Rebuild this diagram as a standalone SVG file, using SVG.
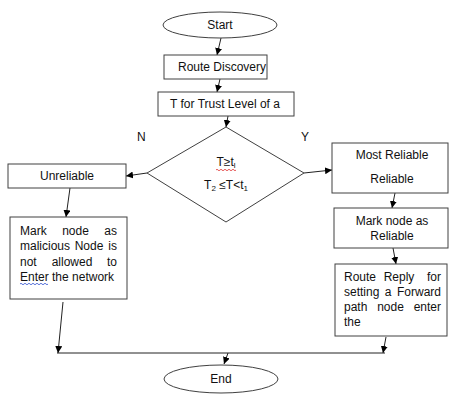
<svg xmlns="http://www.w3.org/2000/svg" width="449" height="394" viewBox="0 0 449 394">
<defs>
<marker id="ah" viewBox="0 0 10 10" refX="10" refY="5" markerWidth="7" markerHeight="7" orient="auto" markerUnits="userSpaceOnUse">
<path d="M0,0 L10,5 L0,10 z" fill="#000"/>
</marker>
<style>
.sh{fill:#fff;stroke:#404040;stroke-width:1}
.t{font-family:"Liberation Sans",Arial,sans-serif;font-size:12px;fill:#111}
.m{text-anchor:middle}
.e{text-anchor:end}
.c{fill:none;stroke:#222;stroke-width:1}
.cm{fill:none;stroke:#222;stroke-width:1;marker-end:url(#ah)}
</style>
</defs>
<rect width="449" height="394" fill="#fff"/>
<g id="connectors">
<line class="cm" x1="221" y1="38" x2="217" y2="55"/>
<line class="cm" x1="220" y1="79" x2="217" y2="92"/>
<line class="cm" x1="228" y1="116" x2="226" y2="127"/>
<line class="cm" x1="147" y1="173" x2="126" y2="176"/>
<line class="cm" x1="304" y1="173" x2="332" y2="170"/>
<line class="cm" x1="70" y1="188" x2="66" y2="217"/>
<line class="cm" x1="395" y1="193" x2="392" y2="208"/>
<line class="cm" x1="393" y1="248" x2="396" y2="264"/>
<line class="cm" x1="63" y1="302" x2="58" y2="353"/>
<line class="cm" x1="386" y1="337" x2="383" y2="353"/>
<line class="c" x1="57" y1="353" x2="385" y2="353"/>
<line class="cm" x1="228" y1="353" x2="224" y2="364"/>
</g>
<g id="start">
<ellipse class="sh" cx="220" cy="25" rx="57" ry="13"/>
<text class="t m" x="220" y="29">Start</text>
</g>
<g id="route-discovery">
<rect class="sh" x="164" y="55" width="103" height="24"/>
<text class="t m" x="222" y="71">Route Discovery</text>
</g>
<g id="trust-level">
<rect class="sh" x="158" y="92" width="136" height="24"/>
<text class="t m" x="225" y="108">T for Trust Level of a</text>
</g>
<g id="decision">
<polygon class="sh" points="226,127 304,173 226,222 147,173"/>
<text class="t m" x="226" y="166">T≥t<tspan font-size="8" dy="2">l</tspan></text>
<path d="M216,170 q1,-1.5 2,0 t2,0 t2,0 t2,0 t2,0 t2,0 t2,0 t2,0 t2,0 t2,0" fill="none" stroke="#e03030" stroke-width="0.8"/>
<text class="t m" x="226" y="189">T<tspan font-size="8" dy="2">2</tspan><tspan dy="-2"> ≤T&lt;t</tspan><tspan font-size="8" dy="2">1</tspan></text>
<text class="t" x="137" y="141">N</text>
<text class="t" x="301" y="141">Y</text>
</g>
<g id="unreliable">
<rect class="sh" x="8" y="164" width="118" height="24"/>
<text class="t m" x="67" y="180">Unreliable</text>
</g>
<g id="mark-malicious">
<rect class="sh" x="10" y="217" width="117" height="82"/>
<text class="t" x="20" y="235">Mark</text>
<text class="t m" x="75.5" y="235">node</text>
<text class="t e" x="117" y="235">as</text>
<text class="t" x="20" y="250">malicious</text>
<text class="t m" x="89" y="250">Node</text>
<text class="t e" x="117" y="250">is</text>
<text class="t" x="20" y="266">not</text>
<text class="t m" x="72" y="266">allowed</text>
<text class="t e" x="117" y="266">to</text>
<text class="t" x="20" y="281">Enter the network</text>
<path d="M20,284 q1,-1.5 2,0 t2,0 t2,0 t2,0 t2,0 t2,0 t2,0 t2,0 t2,0 t2,0 t2,0 t2,0 t2,0 t2,0" fill="none" stroke="#3050d0" stroke-width="0.8"/>
</g>
<g id="most-reliable">
<rect class="sh" x="332" y="143" width="116" height="50"/>
<text class="t m" x="392" y="159">Most Reliable</text>
<text class="t m" x="392" y="183">Reliable</text>
</g>
<g id="mark-reliable">
<rect class="sh" x="334" y="208" width="114" height="40"/>
<text class="t m" x="392" y="225">Mark node as</text>
<text class="t m" x="392" y="240">Reliable</text>
</g>
<g id="route-reply">
<rect class="sh" x="335" y="264" width="112" height="72"/>
<text class="t" x="344" y="281">Route</text>
<text class="t m" x="399" y="281">Reply</text>
<text class="t e" x="441" y="281">for</text>
<text class="t" x="344" y="296">setting</text>
<text class="t m" x="388" y="296">a</text>
<text class="t e" x="441" y="296">Forward</text>
<text class="t" x="344" y="311">path</text>
<text class="t m" x="390.5" y="311">node</text>
<text class="t e" x="441" y="311">enter</text>
<text class="t" x="344" y="326">the</text>
</g>
<g id="end">
<ellipse class="sh" cx="221" cy="379" rx="57" ry="14"/>
<text class="t m" x="221" y="383">End</text>
</g>
</svg>
